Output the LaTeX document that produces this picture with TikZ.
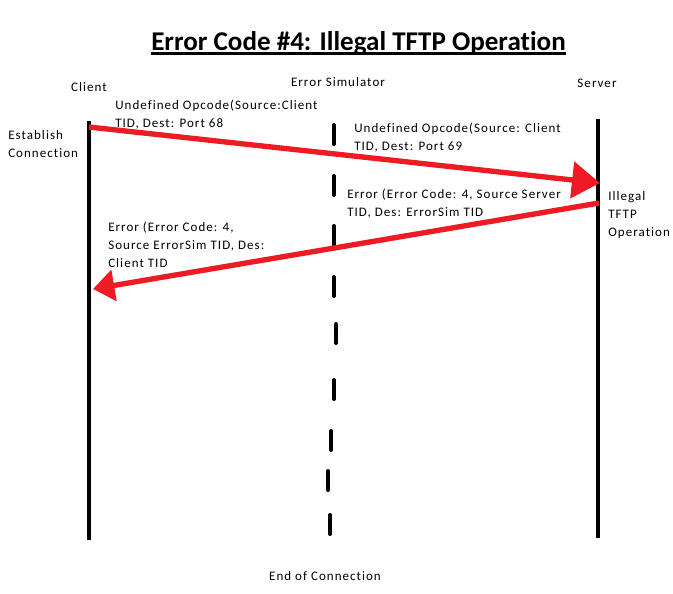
\documentclass[tikz,border=0pt]{standalone}
\usepackage{fontspec}
\setmainfont{Carlito}[Ligatures={NoCommon},LetterSpace=8]
\newfontfamily\titlefont{Carlito}[Ligatures={NoCommon}]
\usetikzlibrary{arrows.meta}
\definecolor{msgred}{RGB}{237,28,36}
\begin{document}
\begin{tikzpicture}[x=0.75pt,y=-0.75pt]
  \tikzstyle{every node}=[inner sep=0pt,font=\fontsize{9.75}{13.5}\selectfont]
  \tikzstyle{note}=[anchor=north west,align=left]
  \tikzstyle{life}=[line width=3pt]
  \tikzstyle{msg}=[draw=msgred,line width=4pt]
  \useasboundingbox (0,0) rectangle (673,593);
  \node (title) [anchor=base] at (358.5,50) {\titlefont\fontsize{20.3}{24}\selectfont\bfseries Error Code \#4: Illegal TFTP Operation};
  \draw [line width=2.2pt] ([yshift=-2.5pt]title.base west) -- ([yshift=-2.5pt]title.base east);
  \node (client) [anchor=base] at (89,91.5) {Client};
  \node (sim) [anchor=base] at (338,86) {Error Simulator};
  \node (server) [anchor=base] at (597,87) {Server};
  % lifelines
  \coordinate (c-top) at (89,121);  \coordinate (c-bot) at (89,540);
  \coordinate (s-top) at (598,119); \coordinate (s-bot) at (598,538);
  \draw [life] (c-top) -- (c-bot);
  \draw [life] (s-top) -- (s-bot);
  \foreach \x/\y in {334/123,334/174,334/224,334/275,336/322,334/378,331/429,328/469,330/513}
    \draw [life,line cap=round] (\x,\y+2) -- (\x,\y+21);
  % messages
  \coordinate (m1-from) at (89,127); \coordinate (m1-to) at (600,183);
  \coordinate (m2-from) at (599,203); \coordinate (m2-to) at (93,289);
  \draw [msg,-{Triangle[length=21pt,width=27pt]}] (m1-from) -- (m1-to);
  \draw [msg,-{Triangle[length=16pt,width=23pt]}] (m2-from) -- (m2-to);
  \node (op-c) [note] at (115,99.5) {Undefined Opcode(Source:Client\\TID, Dest: Port 68};
  \node (est) [note] at (8,130.5) {Establish\\Connection};
  \node (op-s) [note] at (354,122.5) {Undefined Opcode(Source: Client\\TID, Dest: Port 69};
  \node (err-s) [note] at (347,188.5) {Error (Error Code: 4, Source Server\\TID, Des: ErrorSim TID};
  \node (ill) [note] at (608,191.5) {Illegal\\TFTP\\Operation};
  \node (err-c) [note] at (108,221.5) {Error (Error Code: 4,\\Source ErrorSim TID, Des:\\Client TID};
  \node (end) [anchor=base] at (325,580) {End of Connection};
\end{tikzpicture}
\end{document}
